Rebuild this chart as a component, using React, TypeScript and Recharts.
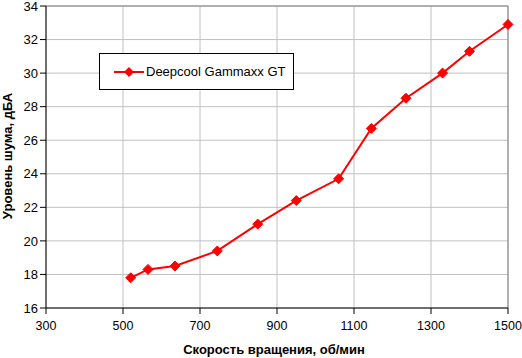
import React from 'react';
import {
  LineChart,
  Line,
  XAxis,
  YAxis,
  CartesianGrid,
  Legend,
  ReferenceLine
} from 'recharts';

const rpm = [520, 565, 635, 745, 850, 950, 1060, 1145, 1235, 1330, 1400, 1500];
const noise = [17.8, 18.3, 18.5, 19.4, 21.0, 22.4, 23.7, 26.7, 28.5, 30.0, 31.3, 32.9];
const xTicks = [300, 500, 700, 900, 1100, 1300, 1500];
const yTicks = [16, 18, 20, 22, 24, 26, 28, 30, 32, 34];
const seriesName = 'Deepcool Gammaxx GT';

const data = rpm.map((r, i) => ({ rpm: r, noise: noise[i] }));

const FONT = '"Liberation Sans", Arial, sans-serif';
const RED = '#ff0000';

const Diamond = (props: any) => {
  const { cx, cy, index } = props;
  if (cx == null || cy == null) return null;
  const s = 5;
  return (
    <polygon
      key={`d-${index}`}
      points={`${cx},${cy - s} ${cx + s},${cy} ${cx},${cy + s} ${cx - s},${cy}`}
      fill={RED}
      stroke={RED}
    />
  );
};

const LegendBox = () => (
  <div
    style={{
      boxSizing: 'border-box',
      width: 195,
      height: 37,
      border: '1px solid #000',
      background: '#fff',
      display: 'flex',
      alignItems: 'center',
      fontFamily: FONT,
      fontSize: 13,
      color: '#000'
    }}
  >
    <svg width={46} height={12} style={{ flexShrink: 0 }}>
      <line x1={14} y1={6} x2={44} y2={6} stroke={RED} strokeWidth={2} />
      <polygon points="29,1 34,6 29,11 24,6" fill={RED} />
    </svg>
    <span>{seriesName}</span>
  </div>
);

export default function App() {
  return (
    <div style={{ position: 'absolute', left: 0, top: 0, width: 522, height: 358, background: '#fff' }}>
      <LineChart
        width={522}
        height={358}
        data={data}
        margin={{ top: 6, right: 14, left: 0, bottom: 0 }}
      >
        <CartesianGrid stroke="#c0c0c0" strokeWidth={1} />
        <ReferenceLine y={34} stroke="#808080" />
        <ReferenceLine x={1500} stroke="#808080" />
        <XAxis
          dataKey="rpm"
          type="number"
          domain={[300, 1500]}
          ticks={xTicks}
          height={50}
          tickMargin={7}
          stroke="#000"
          tick={{ fill: '#000', fontSize: 12.5, fontFamily: FONT }}
          interval={0}
        />
        <YAxis
          type="number"
          domain={[16, 34]}
          ticks={yTicks}
          width={46}
          stroke="#000"
          tick={{ fill: '#000', fontSize: 13, fontFamily: FONT }}
          interval={0}
        />
        <Legend
          layout="horizontal"
          verticalAlign="middle"
          align="center"
          content={() => <LegendBox />}
          wrapperStyle={{ left: 99, top: 53, width: 195, height: 37 }}
        />
        <Line
          type="linear"
          dataKey="noise"
          name={seriesName}
          stroke={RED}
          strokeWidth={2}
          dot={Diamond}
          activeDot={false}
          isAnimationActive={false}
        />
      </LineChart>
      <svg
        width={522}
        height={358}
        style={{ position: 'absolute', left: 0, top: 0, pointerEvents: 'none' }}
      >
        <text
          x={274}
          y={354}
          textAnchor="middle"
          fontFamily={FONT}
          fontSize={13}
          fontWeight="bold"
          fill="#000"
        >
          Скорость вращения, об/мин
        </text>
        <text
          x={12}
          y={156}
          textAnchor="middle"
          transform="rotate(-90, 12, 156)"
          fontFamily={FONT}
          fontSize={13}
          fontWeight="bold"
          fill="#000"
        >
          Уровень шума, дБА
        </text>
      </svg>
    </div>
  );
}
